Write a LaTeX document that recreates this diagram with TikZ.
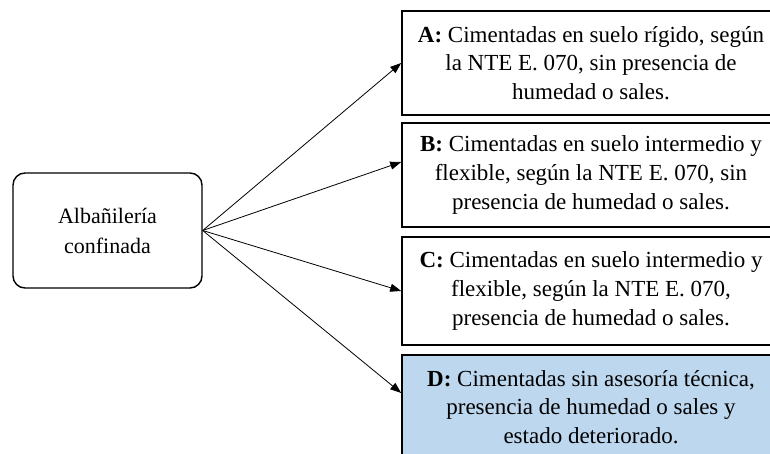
\documentclass[tikz,border=0pt]{standalone}
\usepackage{fontspec}
\setmainfont{Liberation Serif}
\usepackage{xcolor}
\usetikzlibrary{arrows.meta, positioning}
\definecolor{softblue}{HTML}{BDD7EE}

\begin{document}
\begin{tikzpicture}[
  x=1pt, y=-1pt,
  node distance=8.4pt,
  box/.style={draw, line width=1.6pt, minimum width=378pt, minimum height=104pt,
              inner sep=0pt, align=center, font=\fontsize{23}{28.8}\selectfont},
  root/.style={draw, line width=1.4pt, rounded corners=12pt, minimum width=189pt,
               minimum height=115pt, align=center, font=\fontsize{22}{30}\selectfont},
  arrow/.style={-{Triangle[length=11pt,width=8pt]}, line width=0.8pt},
]
\useasboundingbox (0,0) rectangle (770,454);
\clip (0,0) rectangle (770,454);

\node[root] (alb) at (107.5,230.5) {Albañilería\\confinada};

\node[box] (boxA) at (591,63) {\textbf{A:} Cimentadas en suelo rígido, según\\la NTE E. 070, sin presencia de\\humedad o sales.};
\node[box, below=6.4pt of boxA] (boxB) {\textbf{B:} Cimentadas en suelo intermedio y\\flexible, según la NTE E. 070, sin\\presencia de humedad o sales.};
\node[box, minimum height=108pt, below=of boxB] (boxC) {\textbf{C:} Cimentadas en suelo intermedio y\\flexible, según la NTE E. 070,\\presencia de humedad o sales.};
\node[box, fill=softblue, below=of boxC] (boxD) {\textbf{D:} Cimentadas sin asesoría técnica,\\presencia de humedad o sales y\\estado deteriorado.};

\draw[arrow] (alb.east) -- (boxA.west);
\draw[arrow] (alb.east) -- ([yshift=13pt]boxB.west);
\draw[arrow] (alb.east) -- (boxC.west);
\draw[arrow] (alb.east) -- ([yshift=14pt]boxD.west);
\end{tikzpicture}
\end{document}
